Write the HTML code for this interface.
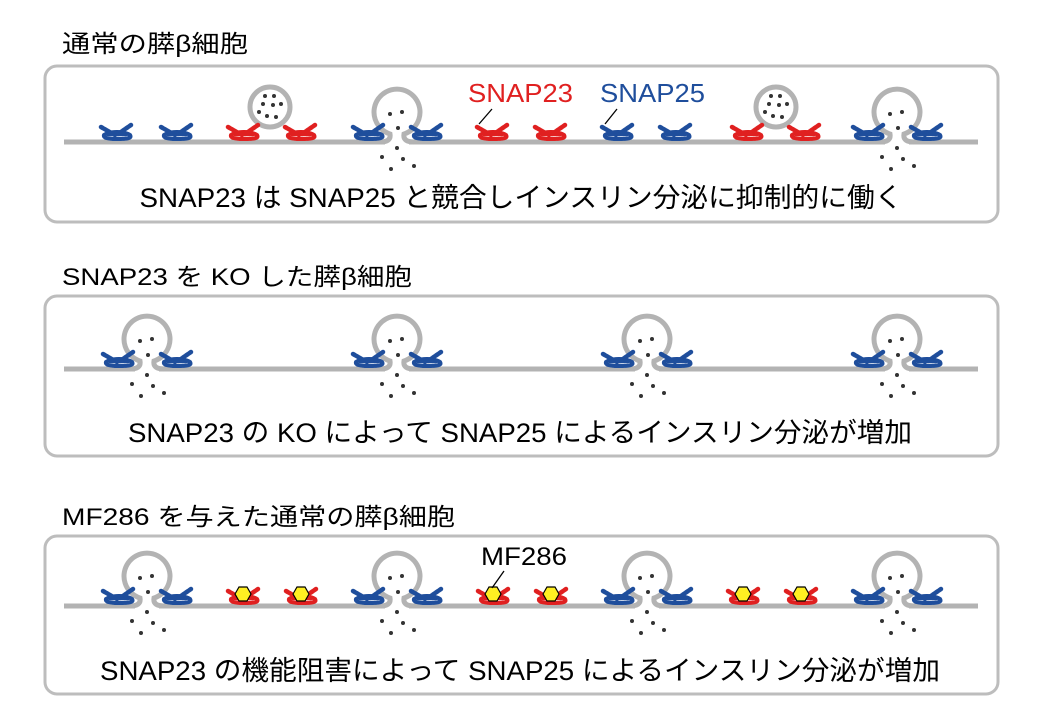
<!DOCTYPE html>
<html><head><meta charset="utf-8"><style>
html,body{margin:0;padding:0;background:#fff;}
svg{display:block;font-family:"Liberation Sans","Noto Sans CJK JP",sans-serif;}
</style></head><body>
<svg width="1040" height="720" viewBox="0 0 1040 720" xmlns="http://www.w3.org/2000/svg">
<defs>
<g id="pore">
<rect x="-12" y="-4" width="24" height="8" fill="#fff"/>
<path d="M -32 0 H -18 C -10 0 -6 -2 -7 -8 A 23 23 0 1 1 7 -8 C 6 -2 10 0 18 0 H 32" fill="none" stroke="#b3b3b3" stroke-width="5"/>
<g fill="#333">
<circle cx="-7" cy="-28" r="2"/><circle cx="5" cy="-30" r="2"/><circle cx="1" cy="-14" r="2"/>
<circle cx="0" cy="6" r="2"/><circle cx="-15" cy="15" r="2"/><circle cx="6" cy="17" r="2"/>
<circle cx="-6" cy="27" r="2"/><circle cx="17" cy="24" r="2"/>
</g>
</g>
<g id="snare" fill="none" stroke-linecap="round">
<path d="M1 -12 L15 -4" stroke-width="4.5" stroke-dasharray="2.5 1.2"/>
<path d="M31 -14 L18 -5" stroke-width="4.5" stroke-dasharray="2.5 1.2"/>
<path d="M4 -4 C10 -8 24 -8 30 -4 C32 -1 28 0 18 0 C8 0 3 -1 4 -4 Z" stroke-width="4" stroke-dasharray="2.5 1"/>
<path d="M8 -4 H26" stroke-width="2.5"/>
</g>
<g id="sb" stroke="#1f4e9c"><use href="#snare"/></g>
<g id="sr" stroke="#e02020"><use href="#snare"/></g>
<g id="hex"><polygon points="-8,0 -4,-7 4,-7 8,0 4,7 -4,7" fill="#ffee22" stroke="#000" stroke-width="1.2"/></g>
<g id="vesicle">
<circle cx="0" cy="0" r="20" fill="#fff" stroke="#b3b3b3" stroke-width="5"/>
<g fill="#333"><circle cx="-5" cy="-11" r="2"/><circle cx="4" cy="-11" r="2"/><circle cx="-7" cy="-3" r="2"/><circle cx="3" cy="-2" r="2"/><circle cx="11" cy="-3" r="2"/><circle cx="-11" cy="5" r="2"/><circle cx="-3" cy="9" r="2"/><circle cx="6" cy="10" r="2"/></g>
</g>
</defs>

<text x="62" y="52" font-size="24" textLength="186" lengthAdjust="spacingAndGlyphs">通常の膵β細胞</text>
<text x="62" y="285" font-size="24" textLength="350" lengthAdjust="spacingAndGlyphs">SNAP23 を KO した膵β細胞</text>
<text x="62" y="525" font-size="24" textLength="393" lengthAdjust="spacingAndGlyphs">MF286 を与えた通常の膵β細胞</text>

<rect x="45" y="66" width="953" height="156" rx="12" fill="none" stroke="#bdbdbd" stroke-width="3"/>
<rect x="45" y="296" width="953" height="160" rx="12" fill="none" stroke="#bdbdbd" stroke-width="3"/>
<rect x="45" y="536" width="953" height="158" rx="12" fill="none" stroke="#bdbdbd" stroke-width="3"/>

<!-- Panel 1 -->
<line x1="64" y1="142" x2="978" y2="142" stroke="#b3b3b3" stroke-width="5"/>
<use href="#vesicle" x="270" y="107"/>
<use href="#vesicle" x="776" y="107"/>
<use href="#pore" x="397" y="142"/>
<use href="#pore" x="897" y="142"/>
<use href="#sb" x="100" y="139"/><use href="#sb" x="160" y="139"/>
<use href="#sr" x="227" y="139"/><use href="#sr" x="284" y="139"/>
<use href="#sb" x="352" y="139"/><use href="#sb" x="410" y="139"/>
<use href="#sr" x="476" y="139"/><use href="#sr" x="534" y="139"/>
<use href="#sb" x="601" y="139"/><use href="#sb" x="659" y="139"/>
<use href="#sr" x="731" y="139"/><use href="#sr" x="788" y="139"/>
<use href="#sb" x="852" y="139"/><use href="#sb" x="910" y="139"/>
<text x="468" y="102" font-size="26" fill="#e02020" textLength="105" lengthAdjust="spacingAndGlyphs">SNAP23</text>
<text x="600" y="102" font-size="26" fill="#1f4e9c" textLength="105" lengthAdjust="spacingAndGlyphs">SNAP25</text>
<line x1="492" y1="109" x2="479" y2="124" stroke="#000" stroke-width="1.3"/>
<line x1="617" y1="109" x2="605" y2="124" stroke="#000" stroke-width="1.3"/>
<text x="521" y="207" font-size="27" text-anchor="middle" textLength="763" lengthAdjust="spacingAndGlyphs">SNAP23 は SNAP25 と競合しインスリン分泌に抑制的に働く</text>

<!-- Panel 2 -->
<line x1="64" y1="369" x2="978" y2="369" stroke="#b3b3b3" stroke-width="5"/>
<use href="#pore" x="147" y="369"/><use href="#pore" x="397" y="369"/>
<use href="#pore" x="647" y="369"/><use href="#pore" x="897" y="369"/>
<use href="#sb" x="102" y="366"/><use href="#sb" x="160" y="366"/>
<use href="#sb" x="352" y="366"/><use href="#sb" x="410" y="366"/>
<use href="#sb" x="602" y="366"/><use href="#sb" x="660" y="366"/>
<use href="#sb" x="852" y="366"/><use href="#sb" x="910" y="366"/>
<text x="520" y="442" font-size="27" text-anchor="middle" textLength="784" lengthAdjust="spacingAndGlyphs">SNAP23 の KO によって SNAP25 によるインスリン分泌が増加</text>

<!-- Panel 3 -->
<line x1="64" y1="606" x2="978" y2="606" stroke="#b3b3b3" stroke-width="5"/>
<use href="#pore" x="147" y="606"/><use href="#pore" x="397" y="606"/>
<use href="#pore" x="647" y="606"/><use href="#pore" x="897" y="606"/>
<use href="#sb" x="102" y="603"/><use href="#sb" x="160" y="603"/>
<use href="#sb" x="352" y="603"/><use href="#sb" x="410" y="603"/>
<use href="#sb" x="602" y="603"/><use href="#sb" x="660" y="603"/>
<use href="#sb" x="852" y="603"/><use href="#sb" x="910" y="603"/>
<use href="#sr" x="227" y="603"/><use href="#sr" x="285" y="603"/>
<use href="#sr" x="477" y="603"/><use href="#sr" x="535" y="603"/>
<use href="#sr" x="727" y="603"/><use href="#sr" x="785" y="603"/>
<use href="#hex" x="243" y="594"/><use href="#hex" x="301" y="594"/>
<use href="#hex" x="493" y="594"/><use href="#hex" x="551" y="594"/>
<use href="#hex" x="743" y="594"/><use href="#hex" x="801" y="594"/>
<text x="481" y="565" font-size="25" textLength="86" lengthAdjust="spacingAndGlyphs">MF286</text>
<line x1="504" y1="571" x2="492" y2="588" stroke="#000" stroke-width="1.3"/>
<text x="520" y="680" font-size="27" text-anchor="middle" textLength="840" lengthAdjust="spacingAndGlyphs">SNAP23 の機能阻害によって SNAP25 によるインスリン分泌が増加</text>
</svg>
</body></html>
